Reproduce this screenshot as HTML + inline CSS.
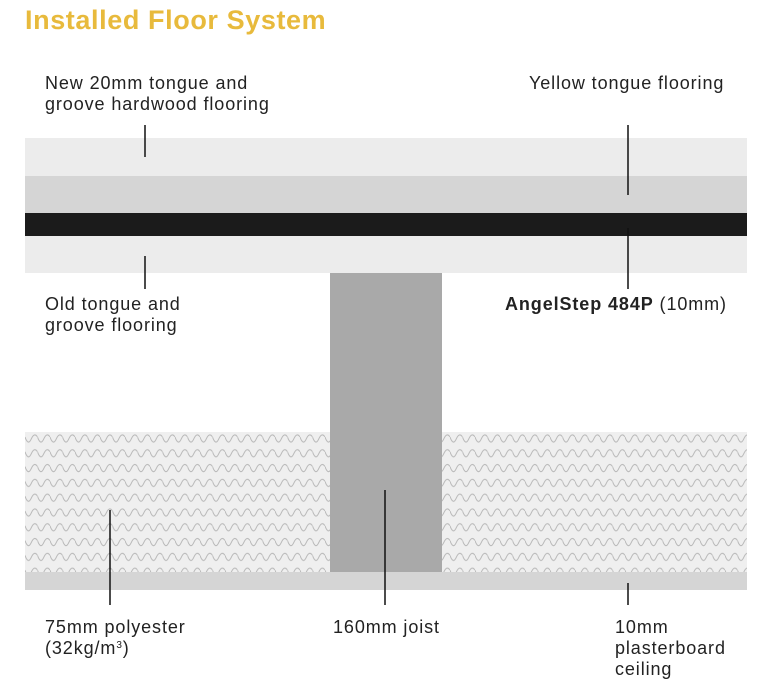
<!DOCTYPE html>
<html><head><style>
body{margin:0;width:768px;height:683px;background:#fff;position:relative;overflow:hidden;font-family:"Liberation Sans",sans-serif;}
.t{position:absolute;font-size:18px;letter-spacing:0.9px;color:#222;line-height:21px;white-space:nowrap;}
sup{font-size:10px;line-height:0;vertical-align:6px;}
</style></head><body>
<div style="position:absolute;left:25px;top:5px;font-size:27px;letter-spacing:0.6px;font-weight:bold;color:#e8ba3c;">Installed Floor System</div>
<div class="t" style="left:45px;top:73px">New 20mm tongue and<br>groove hardwood flooring</div>
<div class="t" style="left:529px;top:73px">Yellow tongue flooring</div>
<div class="t" style="left:45px;top:294px">Old tongue and<br>groove flooring</div>
<div class="t" style="left:505px;top:294px"><b>AngelStep 484P</b> (10mm)</div>
<div class="t" style="left:45px;top:617px">75mm polyester<br>(32kg/m<sup>3</sup>)</div>
<div class="t" style="left:333px;top:617px">160mm joist</div>
<div class="t" style="left:615px;top:617px">10mm<br>plasterboard<br>ceiling</div>
<svg width="768" height="683" style="position:absolute;left:0;top:0">
<defs><pattern id="w" x="25" y="433" width="12.5" height="14.8" patternUnits="userSpaceOnUse">
<path d="M0,4 Q3.1,13 6.25,6 T12.5,4" fill="none" stroke="#b8b8b8" stroke-width="1"/></pattern></defs>
<rect x="25" y="138" width="722" height="38" fill="#ececec"/>
<rect x="25" y="176" width="722" height="37" fill="#d5d5d5"/>
<rect x="25" y="213" width="722" height="23" fill="#1b1b1b"/>
<rect x="25" y="236" width="722" height="37" fill="#ececec"/>
<rect x="25" y="432" width="722" height="140" fill="#efefef"/>
<rect x="25" y="432" width="722" height="140" fill="url(#w)"/>
<rect x="25" y="572" width="722" height="18" fill="#d5d5d5"/>
<rect x="330" y="273" width="112" height="299" fill="#a9a9a9"/>
<g stroke="#111" stroke-width="1.5">
<line x1="145" y1="125" x2="145" y2="157"/><line x1="145" y1="256" x2="145" y2="289"/>
<line x1="628" y1="125" x2="628" y2="195"/><line x1="628" y1="228" x2="628" y2="289"/>
<line x1="110" y1="510" x2="110" y2="605"/><line x1="385" y1="490" x2="385" y2="605"/>
<line x1="628" y1="583" x2="628" y2="605"/></g>
</svg>
</body></html>
